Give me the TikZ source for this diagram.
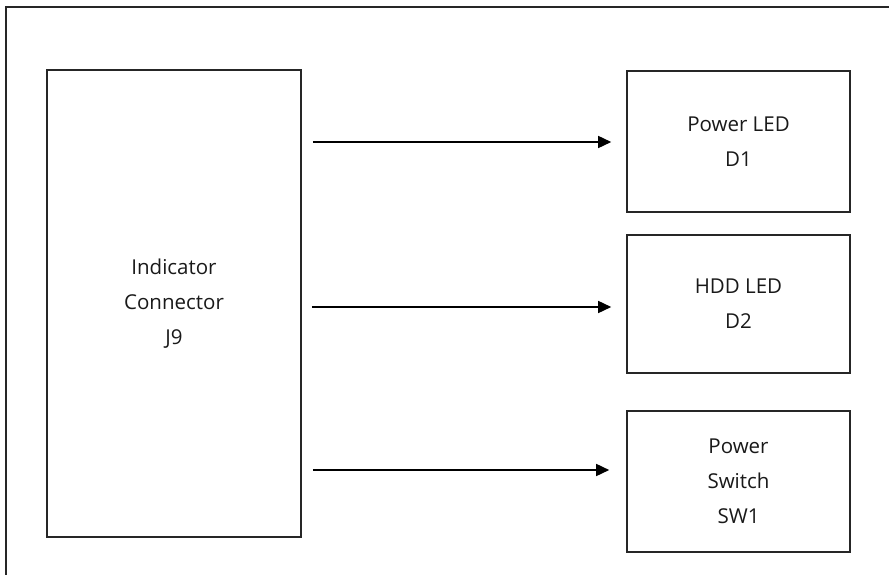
\documentclass[tikz,border=0pt]{standalone}
\usepackage{fontspec}
\setmainfont{Open Sans}
\usetikzlibrary{arrows.meta}
\begin{document}
\begin{tikzpicture}[x=1pt,y=-1pt,
  line width=1.6pt,
  frame/.style={draw=black!85, line width=1.6pt},
  block/.style={draw=black!85, line width=1.6pt, rectangle, inner sep=0pt,
    align=center, font=\fontsize{20.5}{35}\selectfont, text=black!90},
  link/.style={-{Triangle[length=13pt,width=12pt]}, line width=1.6pt, draw=black}]
\useasboundingbox (0,0) rectangle (889,575);
\clip (0,0) rectangle (889,575);
% outer frame
\draw[frame] (6,7) rectangle (920,600);
% connector block
\node[block, minimum width=254pt, minimum height=467pt] (j9) at (174,303.5)
  {Indicator\\Connector\\J9};
% target blocks
\node[block, minimum width=223pt, minimum height=141pt] (led1) at (738.5,141.5)
  {Power LED\\D1};
\node[block, minimum width=223pt, minimum height=138pt] (led2) at (738.5,304)
  {HDD LED\\D2};
\node[block, minimum width=223pt, minimum height=141pt] (sw1) at (738.5,481.5)
  {Power\\Switch\\SW1};
% signal lines
\coordinate (y1) at (0,142);
\coordinate (y2) at (0,307);
\coordinate (y3) at (0,470);
\draw[link] ([xshift=11pt]j9.east |- y1) -- ([xshift=-15pt]led1.west |- y1);
\draw[link] ([xshift=10pt]j9.east |- y2) -- ([xshift=-15pt]led2.west |- y2);
\draw[link] ([xshift=11pt]j9.east |- y3) -- ([xshift=-17pt]sw1.west |- y3);
\end{tikzpicture}
\end{document}
